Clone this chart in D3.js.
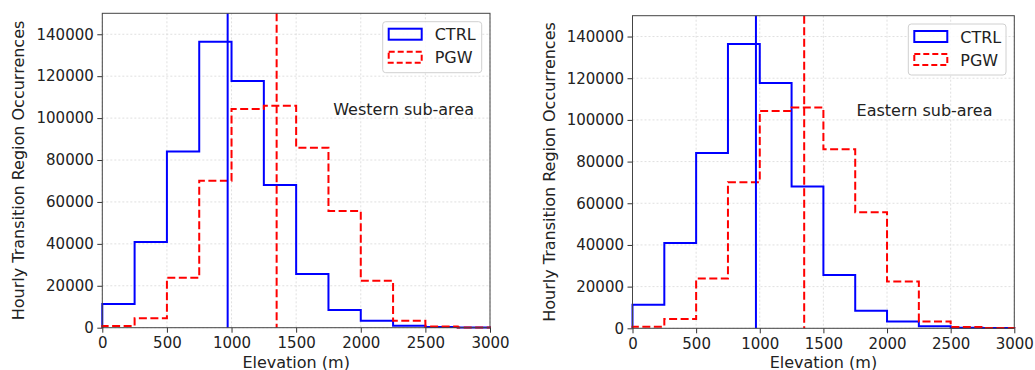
<!DOCTYPE html>
<html><head><meta charset="utf-8">
<script src="https://cdn.jsdelivr.net/npm/d3@7"></script>
<style>body{margin:0;background:#fff}svg{display:block;font-family:"DejaVu Sans",sans-serif}</style>
</head><body><svg id="c" width="1035" height="370"></svg>
<script>
const binEdges = [0,250,500,750,1000,1250,1500,1750,2000,2250,2500,2750,3000];
const ctrlCounts = [11300,40900,84100,136400,117700,68100,25600,8400,3300,950,300,100];
const pgwCounts = [800,4500,23850,70100,104300,105900,85900,55700,22400,3300,600,150];
const ctrlMean = 970;
const pgwMean = 1349;
const xTicks = [0,500,1000,1500,2000,2500,3000];
const yTicks = [0,20000,40000,60000,80000,100000,120000,140000];
const panelTitles = ["Western sub-area","Eastern sub-area"];
const seriesNames = ["CTRL","PGW"];

const svg = d3.select("#c");
const panels = [
  {x0:102.3, x1:490, y0:13.3, y1:327.7, ylabX:24, title:panelTitles[0], tx:474, ty:115, lg:[382.7,21.7,99,51]},
  {x0:632.5, x1:1014.3, y0:15.7, y1:328.3, ylabX:555, title:panelTitles[1], tx:992.5, ty:116, lg:[908.3,24,97.7,51]}
];

panels.forEach(p=>{
  const g = svg.append("g");
  const x = d3.scaleLinear().domain([0,3000]).range([p.x0,p.x1]);
  const y = d3.scaleLinear().domain([0,150000]).range([p.y1,p.y0]);
  // grid
  g.append("g").selectAll("line").data(xTicks).join("line")
    .attr("x1",d=>x(d)).attr("x2",d=>x(d)).attr("y1",p.y0).attr("y2",p.y1)
    .attr("stroke","#d8d8d8").attr("stroke-width",0.8).attr("stroke-dasharray","2,2");
  g.append("g").selectAll("line").data(yTicks).join("line")
    .attr("x1",p.x0).attr("x2",p.x1).attr("y1",d=>y(d)).attr("y2",d=>y(d))
    .attr("stroke","#d8d8d8").attr("stroke-width",0.8).attr("stroke-dasharray","2,2");

  const stepPath = counts => {
    const pts = [[binEdges[0],0]];
    counts.forEach((c,i)=>{pts.push([binEdges[i],c]);pts.push([binEdges[i+1],c]);});
    pts.push([binEdges[binEdges.length-1],0]);
    return d3.line().x(d=>x(d[0])).y(d=>y(d[1]))(pts);
  };
  g.append("path").attr("d",stepPath(ctrlCounts)).attr("fill","none").attr("stroke","#0000ff").attr("stroke-width",2);
  g.append("path").attr("d",stepPath(pgwCounts)).attr("fill","none").attr("stroke","#ff0000").attr("stroke-width",2).attr("stroke-dasharray","8,3.5");
  g.append("line").attr("x1",x(ctrlMean)).attr("x2",x(ctrlMean)).attr("y1",p.y0).attr("y2",p.y1)
    .attr("stroke","#0000ff").attr("stroke-width",2);
  g.append("line").attr("x1",x(pgwMean)).attr("x2",x(pgwMean)).attr("y1",p.y0).attr("y2",p.y1)
    .attr("stroke","#ff0000").attr("stroke-width",2).attr("stroke-dasharray","8,3.5");

  // axes
  const xa = g.append("g").attr("transform",`translate(0,${p.y1})`)
    .call(d3.axisBottom(x).tickValues(xTicks).tickFormat(d3.format("d")).tickSize(5).tickPadding(3.5));
  const ya = g.append("g").attr("transform",`translate(${p.x0},0)`)
    .call(d3.axisLeft(y).tickValues(yTicks).tickFormat(d3.format("d")).tickSize(5).tickPadding(3.5));
  [xa,ya].forEach(a=>{
    a.select(".domain").remove();
    a.selectAll("line").attr("stroke","#333");
    a.selectAll("text").attr("font-size",15).attr("fill","#222").attr("font-family","DejaVu Sans");
  });
  xa.selectAll("text").attr("dy","12.3px");
  // frame
  g.append("rect").attr("x",p.x0).attr("y",p.y0).attr("width",p.x1-p.x0).attr("height",p.y1-p.y0)
    .attr("fill","none").attr("stroke","#444").attr("stroke-width",1);
  // labels
  g.append("text").attr("x",(p.x0+p.x1)/2).attr("y",367.5).attr("text-anchor","middle")
    .attr("font-size",16).attr("fill","#222").text("Elevation (m)");
  g.append("text").attr("transform",`translate(${p.ylabX},${(p.y0+p.y1)/2}) rotate(-90)`)
    .attr("text-anchor","middle").attr("font-size",16).attr("fill","#222").text("Hourly Transition Region Occurrences");
  g.append("text").attr("x",p.tx).attr("y",p.ty).attr("text-anchor","end")
    .attr("font-size",16).attr("fill","#222").text(p.title);
  // legend
  const [lx,ly,lw,lh] = p.lg;
  g.append("rect").attr("x",lx).attr("y",ly).attr("width",lw).attr("height",lh).attr("rx",3)
    .attr("fill","#fff").attr("fill-opacity",0.85).attr("stroke","#d0d0d0").attr("stroke-width",1);
  const styles = [{c:"#0000ff",d:null},{c:"#ff0000",d:"6,3"}];
  seriesNames.forEach((n,i)=>{
    const yy = ly + 7 + i*23;
    g.append("rect").attr("x",lx+6).attr("y",yy).attr("width",33).attr("height",11)
      .attr("fill","none").attr("stroke",styles[i].c).attr("stroke-width",2).attr("stroke-dasharray",styles[i].d);
    g.append("text").attr("x",lx+52).attr("y",yy+11.5).attr("font-size",16).attr("fill","#222").text(n);
  });
});
</script></body></html>
